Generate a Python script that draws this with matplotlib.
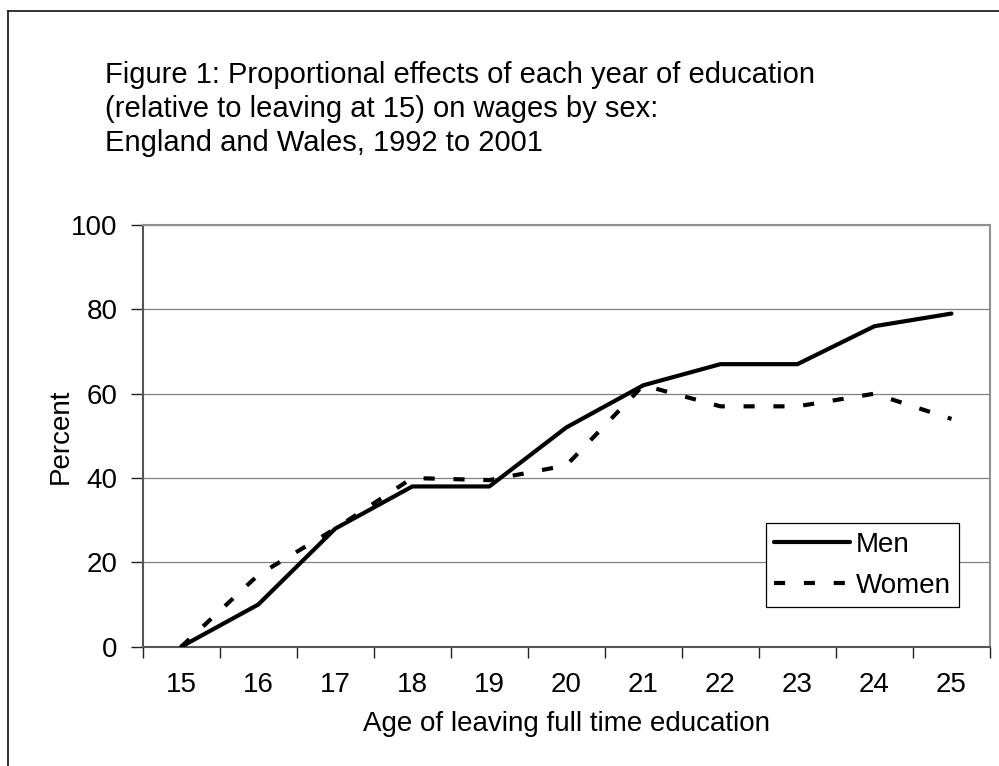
import matplotlib
matplotlib.use("Agg")
import matplotlib.pyplot as plt
from matplotlib.lines import Line2D
import numpy as np

plt.rcParams['font.family'] = ['Liberation Sans', 'DejaVu Sans']
plt.rcParams['lines.scale_dashes'] = False

ages = ["15", "16", "17", "18", "19", "20", "21", "22", "23", "24", "25"]
men = [0, 10, 28, 38, 38, 52, 62, 67, 67, 76, 79]
women = [0, 17, 28, 40, 39.5, 43, 62, 57, 57, 60, 54]

title_lines = ["Figure 1: Proportional effects of each year of education",
               "(relative to leaving at 15) on wages by sex:",
               "England and Wales, 1992 to 2001"]

W, H = 999, 766
fig = plt.figure(figsize=(W / 100, H / 100), dpi=100)
fig.patch.set_facecolor('white')

left, right, top, bottom = 142.7, 990, 225, 646.7
ax = fig.add_axes([left / W, 1 - bottom / H, (right - left) / W, (bottom - top) / H])

x = np.arange(len(ages))
ax.plot(x, men, color='black', lw=3.0, solid_capstyle='round', solid_joinstyle='round', label='Men', zorder=3)
ax.plot(x, women, color='black', lw=3.0, dashes=(8.0, 13.5), dash_capstyle='butt', label='Women', zorder=3)

ax.set_xlim(-0.5, len(ages) - 0.5)
ax.set_ylim(0, 100)
ax.set_yticks([0, 20, 40, 60, 80, 100])
ax.set_yticklabels(["0", "20", "40", "60", "80", "100"], fontsize=20)
ax.yaxis.grid(True, color='#808080', lw=0.9)
ax.set_axisbelow(True)

ax.set_xticks(np.arange(-0.5, len(ages), 1.0))
ax.set_xticklabels([])
ax.set_xticks(x, minor=True)
ax.set_xticklabels(ages, minor=True, fontsize=20)
ax.tick_params(axis='x', which='major', length=8, width=1, color='#222222', direction='out')
ax.tick_params(axis='x', which='minor', length=0, pad=18)
ax.tick_params(axis='y', length=9, width=1, color='#222222', direction='out', pad=9)

for s in ['left', 'bottom']:
    ax.spines[s].set_color('#555555')
    ax.spines[s].set_linewidth(1.5)
for s in ['top', 'right']:
    ax.spines[s].set_color('#909090')
    ax.spines[s].set_linewidth(1.5)

ax.set_xlabel("Age of leaving full time education", fontsize=20, labelpad=9.5)
ax.set_ylabel("Percent", fontsize=20, labelpad=-2)

leg = ax.legend(loc='upper left', bbox_to_anchor=(765.7 / W, 1 - 523.3 / H),
                bbox_transform=fig.transFigure, borderaxespad=0, borderpad=0.3,
                handlelength=2.75, handletextpad=0.2, labelspacing=0.55,
                fancybox=False, edgecolor='black', framealpha=1, fontsize=20)
leg.get_frame().set_linewidth(0.9)

for i, line in enumerate(title_lines):
    fig.text(105 / W, 1 - (83 + 34 * i) / H, line, fontsize=21, ha='left', va='baseline')

# outer chart border (clipped at right and bottom)
fig.add_artist(Line2D([8 / W, 8 / W], [0, 1 - 11 / H], transform=fig.transFigure, color='#222222', lw=1.3))
fig.add_artist(Line2D([8 / W, 1], [1 - 11 / H, 1 - 11 / H], transform=fig.transFigure, color='#222222', lw=1.3))

fig.savefig("out.png", dpi=100)
